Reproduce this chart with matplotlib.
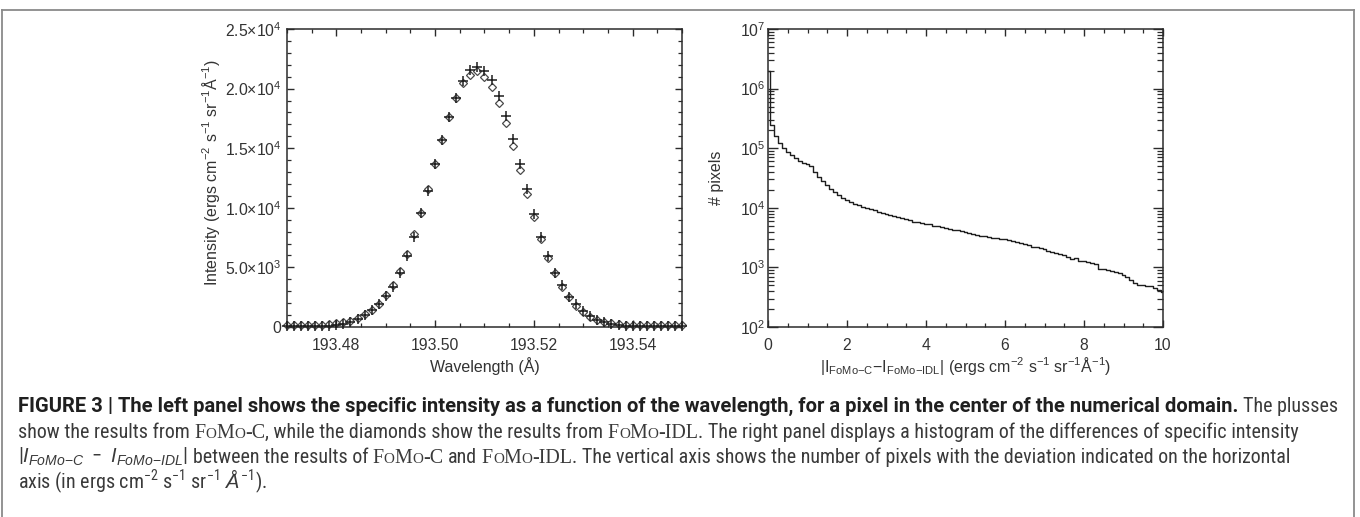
import numpy as np
import matplotlib
matplotlib.use("Agg")
import matplotlib.pyplot as plt
from matplotlib.ticker import MultipleLocator, LogLocator, NullFormatter
from matplotlib.lines import Line2D
import matplotlib.font_manager as fm

# ---------------------------------------------------------------- data
wavelength = [193.47000, 193.47143, 193.47286, 193.47429, 193.47571, 193.47714,
              193.47857, 193.48000, 193.48143, 193.48286, 193.48429, 193.48571,
              193.48714, 193.48857, 193.49000, 193.49143, 193.49286, 193.49429,
              193.49571, 193.49714, 193.49857, 193.50000, 193.50143, 193.50286,
              193.50429, 193.50571, 193.50714, 193.50857, 193.51000, 193.51143,
              193.51286, 193.51429, 193.51571, 193.51714, 193.51857, 193.52000,
              193.52143, 193.52286, 193.52429, 193.52571, 193.52714, 193.52857,
              193.53000, 193.53143, 193.53286, 193.53429, 193.53571, 193.53714,
              193.53857, 193.54000, 193.54143, 193.54286, 193.54429, 193.54571,
              193.54714, 193.54857, 193.55000]

# plusses (FoMo-C)
intensity_fomo_c = [100, 100, 100, 100, 100, 100, 100, 150, 250, 400,
                    650, 1000, 1430, 1900, 2630, 3380, 4500, 5960, 7580, 9540,
                    11430, 13670, 15690, 17590, 19240, 20640, 21530, 21840, 21500, 20690,
                    19380, 17670, 15790, 13660, 11570, 9480, 7520, 5960, 4560, 3520,
                    2540, 1930, 1350, 950, 620, 420, 280, 180, 100, 100,
                    100, 100, 100, 100, 100, 100, 100]

# diamonds (FoMo-IDL)
intensity_fomo_idl = [200, 200, 200, 200, 200, 200, 230, 300, 400, 530,
                      730, 1090, 1430, 1930, 2660, 3520, 4720, 6120, 7770, 9540,
                      11550, 13670, 15690, 17590, 19200, 20430, 21170, 21450, 21000, 20160,
                      18820, 17140, 15200, 13200, 11160, 9200, 7360, 5760, 4500, 3380,
                      2540, 1760, 1260, 870, 590, 450, 310, 250, 200, 200,
                      200, 200, 200, 200, 200, 200, 200]

wl_ticks = [193.48, 193.50, 193.52, 193.54]
wl_tick_labels = ["193.48", "193.50", "193.52", "193.54"]
int_ticks = [0, 5000, 10000, 15000, 20000, 25000]
int_tick_labels = ["0", "5.0×10$^{3}$", "1.0×10$^{4}$", "1.5×10$^{4}$",
                   "2.0×10$^{4}$", "2.5×10$^{4}$"]

# histogram of |I_FoMo-C - I_FoMo-IDL|, bins of 0.1 from 0 to 10
hist_bin_width = 0.1
hist_counts = [2000000, 245000, 158000, 123000, 100000, 87100, 75900, 67600, 61700, 57500,
               53700, 50100, 39800, 33100, 28200, 24000, 20900, 18200, 16200, 14800,
               13500, 12600, 11700, 11000, 10500, 10000, 9550, 9120, 8510, 8130,
               7760, 7590, 7240, 6920, 6760, 6460, 6170, 5890, 5750, 5620,
               5370, 5250, 5010, 4900, 4790, 4570, 4470, 4270, 4170, 4070,
               3890, 3800, 3630, 3550, 3390, 3310, 3240, 3160, 3090, 3020,
               2950, 2880, 2820, 2690, 2570, 2450, 2340, 2240, 2190, 2090,
               2000, 1910, 1820, 1740, 1700, 1620, 1480, 1380, 1430, 1300,
               1260, 1240, 1200, 1150, 955, 933, 912, 871, 832, 794,
               741, 692, 617, 550, 513, 501, 490, 479, 447, 417,
               389]
hist_x = np.round(np.arange(len(hist_counts)) * hist_bin_width, 2)

diff_ticks = [0, 2, 4, 6, 8, 10]
diff_tick_labels = ["0", "2", "4", "6", "8", "10"]
pix_ticks = [1e2, 1e3, 1e4, 1e5, 1e6, 1e7]
pix_tick_labels = ["10$^{2}$", "10$^{3}$", "10$^{4}$", "10$^{5}$", "10$^{6}$", "10$^{7}$"]

# ---------------------------------------------------------------- style
plt.rcParams["font.family"] = ["Liberation Sans", "DejaVu Sans"]
plt.rcParams["mathtext.fontset"] = "custom"
plt.rcParams["mathtext.rm"] = "Liberation Sans"
plt.rcParams["mathtext.it"] = "Liberation Sans:italic"
plt.rcParams["mathtext.bf"] = "Liberation Sans:bold"
plt.rcParams["mathtext.default"] = "regular"

INK = "#2b2b2b"
TICK_FS = 11.3
LABEL_FS = 11.5

W, H = 1360, 517
fig = plt.figure(figsize=(W / 100, H / 100), dpi=100)
fig.patch.set_facecolor("white")


def axes_rect(x0, y0, x1, y1):
    return [x0 / W, 1 - y1 / H, (x1 - x0) / W, (y1 - y0) / H]


def style_axes(ax):
    for sp in ax.spines.values():
        sp.set_color(INK)
        sp.set_linewidth(1.1)
    ax.tick_params(which="both", direction="in", top=True, right=True,
                   color=INK, labelcolor="#333333", labelsize=TICK_FS)
    ax.tick_params(which="major", length=5.2, width=1.0)
    ax.tick_params(which="minor", length=2.8, width=0.9)
    ax.tick_params(axis="x", which="both", pad=8)


# ---------------------------------------------------------------- left panel
ax1 = fig.add_axes(axes_rect(287, 29, 682, 327))
ax1.plot(wavelength, intensity_fomo_c, linestyle="none", marker="+", ms=7.5,
         mew=1.1, color="#1e1e1e", clip_on=False, zorder=3)
ax1.plot(wavelength, intensity_fomo_idl, linestyle="none", marker="D", ms=4.5,
         mfc="none", mec="#4a4a4a", mew=0.9, clip_on=False, zorder=2)
ax1.set_xlim(193.47, 193.55)
ax1.set_ylim(0, 25000)
ax1.set_xticks(wl_ticks, wl_tick_labels)
ax1.set_yticks(int_ticks, int_tick_labels)
ax1.xaxis.set_minor_locator(MultipleLocator(0.005))
ax1.yaxis.set_minor_locator(MultipleLocator(1000))
style_axes(ax1)
ax1.tick_params(axis="y", which="both", pad=4)
ax1.set_xlabel("Wavelength (Å)", fontsize=LABEL_FS, color="#333333", va="center")
ax1.xaxis.set_label_coords(0.5, -(366 - 327) / 298)
ax1.set_ylabel("Intensity (ergs cm$^{-2}$ s$^{-1}$ sr$^{-1}$Å$^{-1}$)",
               fontsize=LABEL_FS, color="#333333", va="center")
ax1.yaxis.set_label_coords((211 - 287) / 395, 0.52)

# ---------------------------------------------------------------- right panel
ax2 = fig.add_axes(axes_rect(768, 29, 1163, 327))
ax2.step(hist_x, hist_counts, where="mid", color="#1e1e1e", lw=1.0)
ax2.set_yscale("log")
ax2.set_xlim(0, 10)
ax2.set_ylim(1e2, 1e7)
ax2.set_xticks(diff_ticks, diff_tick_labels)
ax2.set_yticks(pix_ticks, pix_tick_labels)
ax2.xaxis.set_minor_locator(MultipleLocator(0.5))
ax2.yaxis.set_minor_locator(LogLocator(base=10, subs=np.arange(2, 10)))
ax2.yaxis.set_minor_formatter(NullFormatter())
style_axes(ax2)
ax2.tick_params(axis="y", which="both", pad=2)
ax2.tick_params(axis="y", which="major", length=7)
ax2.tick_params(axis="y", which="minor", length=4)
ax2.set_xlabel("|I$_{FoMo{-}C}$$-$I$_{FoMo{-}IDL}$| (ergs cm$^{-2}$ s$^{-1}$ sr$^{-1}$Å$^{-1}$)",
               fontsize=LABEL_FS, color="#333333", va="center")
ax2.xaxis.set_label_coords(0.5, -(366 - 327) / 298)
ax2.set_ylabel("# pixels", fontsize=LABEL_FS, color="#333333", va="center")
ax2.yaxis.set_label_coords((717 - 768) / 395, 0.5)

# ---------------------------------------------------------------- frame
frame_kw = dict(color="#8a8a8a", lw=1.3, transform=fig.transFigure)
fig.add_artist(Line2D([1.5 / W, 1354 / W], [1 - 10 / H, 1 - 10 / H], **frame_kw))
fig.add_artist(Line2D([1.5 / W, 1.5 / W], [1 - 10 / H, 0], **frame_kw))
fig.add_artist(Line2D([1354 / W, 1354 / W], [1 - 10 / H, 0], **frame_kw))

# ---------------------------------------------------------------- caption
flist = fm.fontManager.ttflist
avail = {f.name for f in flist}
CAP_FAMILY = None
CAP_STRETCH = "normal"
for cand in ["Roboto Condensed", "Liberation Sans Narrow", "Open Sans Condensed"]:
    if cand in avail:
        CAP_FAMILY = cand
        break
if CAP_FAMILY is None:
    if any(f.name == "DejaVu Sans" and f.stretch == "condensed" for f in flist):
        CAP_FAMILY, CAP_STRETCH = "DejaVu Sans", "condensed"
    else:
        CAP_FAMILY = "Liberation Sans"
BOLD_FAMILY = "Roboto" if "Roboto" in avail else CAP_FAMILY

renderer = fig.canvas.get_renderer()
SIZES = {"r": 14.0, "b": 14.0}


def cap_style(st):
    fs = SIZES["r"]
    base = dict(family=[CAP_FAMILY, "DejaVu Sans"], stretch=CAP_STRETCH, size=fs, color="#3a3a3a")
    if st == "b":
        base.update(family=[BOLD_FAMILY, "DejaVu Sans"], stretch="normal",
                    weight="bold", size=SIZES["b"], color="#1f1f1f")
    elif st == "S":
        base.update(family=["Liberation Serif", "DejaVu Serif"], stretch="normal", size=fs * 1.0)
    elif st == "s":
        base.update(family=["Liberation Serif", "DejaVu Serif"], stretch="normal", size=fs * 0.76)
    return base


def put_text(x, y, s, kw):
    return fig.text(x / W, 1 - y / H, s, va="baseline", ha="left", **kw)


def run_width(s, kw):
    t = put_text(0, 100, s, kw)
    w = t.get_window_extent(renderer).width
    t.remove()
    return w


def layout_line(runs, x0=0.0, y=0.0, draw=False, only=None):
    x = x0
    for s, st in runs:
        if only is not None and st not in only:
            continue
        kw = cap_style(st)
        if s == " ":
            x += run_width("n n", kw) - run_width("nn", kw)
            continue
        if draw:
            put_text(x, y, s, kw)
        x += run_width(s, kw)
    return x - x0


SP = (" ", "r")


def fomo(tail):
    return [("F", "S"), ("O", "s"), ("M", "S"), ("O", "s"), ("-" + tail, "S")]


line1 = [("FIGURE 3 | The left panel shows the specific intensity as a function of the "
          "wavelength, for a pixel in the center of the numerical domain.", "b"),
         SP, ("The plusses", "r")]
line2 = [("show the results from", "r"), SP, *fomo("C"),
         (", while the diamonds show the results from", "r"), SP, *fomo("IDL"),
         (". The right panel displays a histogram of the differences of specific intensity", "r")]
line3 = [(r"$|\mathit{I}_{\mathit{FoMo{-}C}}\ -\ \mathit{I}_{\mathit{FoMo{-}IDL}}|$", "r"), SP,
         ("between the results of", "r"), SP, *fomo("C"), SP, ("and", "r"), SP, *fomo("IDL"),
         (". The vertical axis shows the number of pixels with the deviation indicated on the horizontal", "r")]
line4 = [(r"axis (in ergs cm$^{-2}$ s$^{-1}$ sr$^{-1}$ $\mathit{Å}^{-1}$).", "r")]

X0 = 18
# regular size fitted so that line 2 ends where the reference's does
w2 = layout_line(line2)
SIZES["r"] = SIZES["r"] * (1305 - X0) / w2
# bold size fitted so that line 1 ends where the reference's does
w_tail = layout_line(line1, only=("r",))
w_bold = layout_line(line1, only=("b",))
SIZES["b"] = SIZES["b"] * ((1339 - X0) - w_tail) / w_bold

baselines = [412, 437.5, 463, 488.5]
for runs, yb in zip([line1, line2, line3, line4], baselines):
    layout_line(runs, X0, yb, draw=True)

fig.savefig("out.png", dpi=100, facecolor="white")
